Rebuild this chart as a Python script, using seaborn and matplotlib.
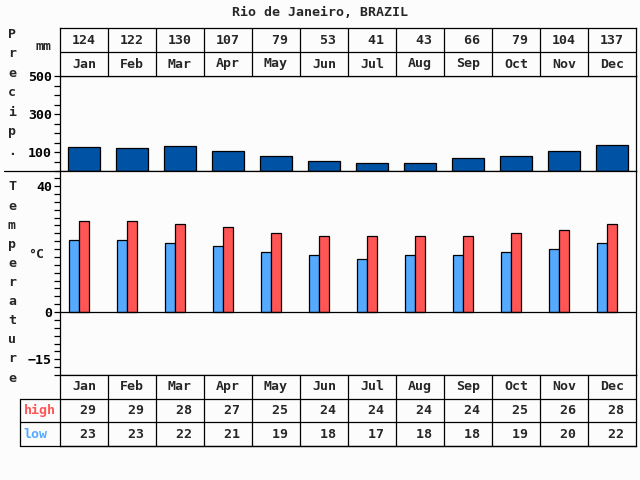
import numpy as np
import pandas as pd
import matplotlib
matplotlib.use('Agg')
import matplotlib.pyplot as plt
import seaborn as sns
from matplotlib.ticker import MultipleLocator
from matplotlib.lines import Line2D

# data
months = ['Jan', 'Feb', 'Mar', 'Apr', 'May', 'Jun', 'Jul', 'Aug', 'Sep', 'Oct', 'Nov', 'Dec']
precip = [124, 122, 130, 107, 79, 53, 41, 43, 66, 79, 104, 137]
high = [29, 29, 28, 27, 25, 24, 24, 24, 24, 25, 26, 28]
low = [23, 23, 22, 21, 19, 18, 17, 18, 18, 19, 20, 22]
title = 'Rio de Janeiro, BRAZIL'

BG = '#FCFCFC'
DARK = '#0052A5'
HIGH_C = '#FF5555'
LOW_C = '#55AAFF'
LW = 0.9
FS = 9.5

sns.set_style('white')
plt.rcParams['font.family'] = ['DejaVu Sans Mono']
plt.rcParams['font.weight'] = 'bold'

fig = plt.figure(figsize=(6.4, 4.8), dpi=100, facecolor=BG)


def px_axes(x0, y0, x1, y1):
    """axes placed by pixel box (top-left origin)"""
    ax = fig.add_axes([x0 / 640, 1 - y1 / 480, (x1 - x0) / 640, (y1 - y0) / 480])
    ax.set_facecolor(BG)
    for s in ax.spines.values():
        s.set_color('black')
        s.set_linewidth(LW)
        s.set_visible(True)
    return ax


"""precipitation bars"""
ax_p = px_axes(60, 76, 636, 171)
sns.barplot(x=months, y=precip, order=months, color=DARK, saturation=1, width=2/3,
            edgecolor='black', linewidth=LW, errorbar=None, ax=ax_p)
ax_p.set_xlim(-0.5, 11.5)
ax_p.set_ylim(0, 500)
ax_p.set_xticks([])
ax_p.set_yticks([100, 300, 500])
ax_p.yaxis.set_minor_locator(MultipleLocator(50))
ax_p.set_xlabel('')
ax_p.set_ylabel('')

"""temperature bars"""
temps = pd.DataFrame({'month': months * 2, 'temp': low + high,
                      'kind': ['low'] * 12 + ['high'] * 12})
ax_t = px_axes(60, 171, 636, 375)
sns.barplot(data=temps, x='month', y='temp', hue='kind', order=months, hue_order=['low', 'high'],
            palette={'low': LOW_C, 'high': HIGH_C}, saturation=1, width=0.42,
            edgecolor='black', linewidth=LW, errorbar=None, legend=False, ax=ax_t)
ax_t.set_xlim(-0.396, 11.604)
ax_t.set_ylim(-20, 44.8)
ax_t.axhline(0, color='black', lw=LW)
ax_t.set_xticks([])
ax_t.set_yticks([40, 0, -15])
ax_t.yaxis.set_minor_locator(MultipleLocator(2.5))
ax_t.set_xlabel('')
ax_t.set_ylabel('')

for ax in (ax_p, ax_t):
    ax.tick_params(axis='y', which='both', left=True, length=4.3, width=LW,
                   direction='out', labelsize=FS, pad=1.5, colors='black')

"""month / value tables"""
ax_top = px_axes(60, 28, 636, 76)
ax_top.set_xlim(-0.5, 11.5)
ax_top.set_ylim(0, 2)
ax_top.axhline(1, color='black', lw=LW)
for i in range(1, 12):
    ax_top.axvline(i - 0.5, color='black', lw=LW)
for i, (m, v) in enumerate(zip(months, precip)):
    ax_top.text(i, 1.5, f'{v:3d}', ha='center', va='center', fontsize=FS)
    ax_top.text(i, 0.5, m, ha='center', va='center', fontsize=FS)
ax_top.set_xticks([])
ax_top.set_yticks([])

ax_bot = px_axes(60, 375, 636, 446)
ax_bot.set_xlim(-0.5, 11.5)
ax_bot.set_ylim(0, 3)
lab_x = -0.5 - 40 / 48
for yy in (0, 1, 2):
    ax_bot.plot([lab_x, 11.5], [yy, yy], color='black', lw=LW, clip_on=False)
ax_bot.plot([lab_x, lab_x], [0, 2], color='black', lw=LW, clip_on=False)
for i in range(1, 12):
    ax_bot.axvline(i - 0.5, color='black', lw=LW)
for i, (m, h, l) in enumerate(zip(months, high, low)):
    ax_bot.text(i, 2.5, m, ha='center', va='center', fontsize=FS)
    ax_bot.text(i, 1.5, f'{h:3d}', ha='center', va='center', fontsize=FS)
    ax_bot.text(i, 0.5, f'{l:3d}', ha='center', va='center', fontsize=FS)
ax_bot.text(lab_x + 0.08, 1.5, 'high', ha='left', va='center', fontsize=FS, color=HIGH_C)
ax_bot.text(lab_x + 0.08, 0.5, 'low', ha='left', va='center', fontsize=FS, color=LOW_C)
ax_bot.set_xticks([])
ax_bot.set_yticks([])

"""labels round the frame"""
def px_text(x, y, s, **kw):
    fig.text(x / 640, 1 - y / 480, s, ha='center', va='center', fontsize=FS, **kw)


px_text(320, 12, title)
px_text(44, 46, 'mm')
px_text(36, 255, '°C')
for k, ch in enumerate('Precip.'):
    px_text(12, 34 + 19.6 * k, ch)
for k, ch in enumerate('Temperature'):
    px_text(12, 187 + 19.1 * k, ch)
fig.add_artist(Line2D([4 / 640, 60 / 640], [1 - 171 / 480] * 2, color='black', lw=LW))

fig.savefig('out.png', dpi=100, facecolor=BG)
